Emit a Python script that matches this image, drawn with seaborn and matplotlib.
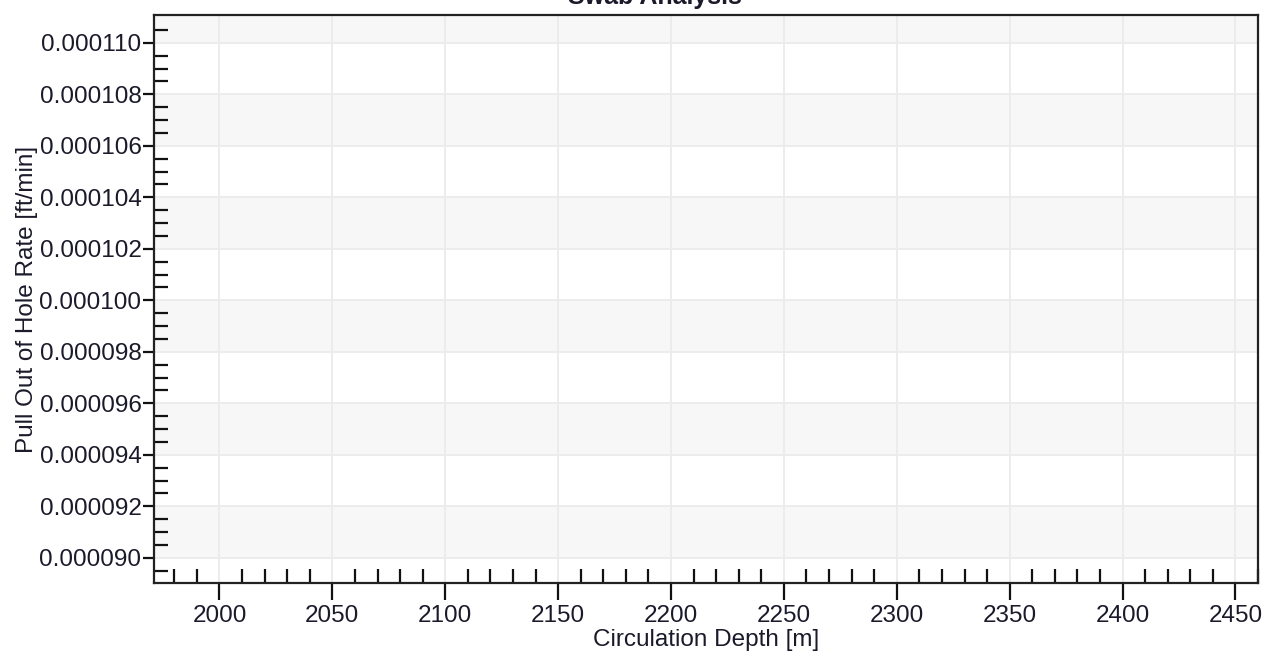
import numpy as np
import pandas as pd
import matplotlib
matplotlib.use("Agg")
import matplotlib.pyplot as plt
import seaborn as sns
from matplotlib.ticker import MultipleLocator, FormatStrFormatter

# no results were computed, so the series is empty
circulation_depth = []
pull_out_rate = []

x_ticks = [2000, 2050, 2100, 2150, 2200, 2250, 2300, 2350, 2400, 2450]
y_ticks = [0.000090, 0.000092, 0.000094, 0.000096, 0.000098, 0.000100,
           0.000102, 0.000104, 0.000106, 0.000108, 0.000110]
x_limits = (1971, 2460)
y_limits = (0.00008902, 0.00011108)

sns.set_theme(style="white")
plt.rcParams['font.family'] = ['Liberation Sans', 'DejaVu Sans']

fig = plt.figure(figsize=(12.71, 6.64), dpi=100)
ax = fig.add_axes([154 / 1271, 1 - 583 / 664, (1258 - 154) / 1271, (583 - 15) / 664])

datos = pd.DataFrame({'depth': pd.Series(circulation_depth, dtype=float),
                      'rate': pd.Series(pull_out_rate, dtype=float)})
sns.lineplot(data=datos, x='depth', y='rate', ax=ax, color='#1f4e9a')

ax.set_xlim(*x_limits)
ax.set_ylim(*y_limits)

# alternating background bands between the grid lines
bordes = [y_limits[0]] + y_ticks + [y_limits[1]]
for i in range(len(bordes) - 1):
    if i % 2 == 1:
        ax.axhspan(bordes[i], bordes[i + 1], color='#f7f7f7', zorder=0, lw=0)

ax.set_xticks(x_ticks)
ax.set_yticks(y_ticks)
ax.xaxis.set_minor_locator(MultipleLocator(10))
# minor y ticks every 0.5e-6, none on the frame corners
ax.set_yticks(np.arange(0.0000895, 0.0001106, 0.0000005), minor=True)
ax.yaxis.set_major_formatter(FormatStrFormatter('%.6f'))
ax.grid(True, which='major', color='#ebebeb', lw=1.3, zorder=0.5)
ax.set_axisbelow(True)

for s in ax.spines.values():
    s.set_color('#222222')
    s.set_linewidth(1.6)

ax.tick_params(which='major', direction='out', color='#111111', width=1.6,
               labelsize=17.5, labelcolor='#1a1a2a', bottom=True, left=True)
ax.tick_params(axis='x', which='major', length=12, pad=4)
ax.tick_params(axis='y', which='major', length=8, pad=1)
ax.tick_params(which='minor', direction='in', length=10, width=1.6,
               color='#111111', bottom=True, left=True, top=False, right=False)

ax.set_xlabel('Circulation Depth [m]', fontsize=17.5, color='#1a1a2a', labelpad=1)
ax.set_ylabel('Pull Out of Hole Rate [ft/min]', fontsize=17.5, color='#1a1a2a', labelpad=1)

# title sits mostly above the picture, as in the original export
fig.text(0.515, 1 - 4 / 664, 'Swab Analysis', ha='center', va='baseline',
         fontsize=18, fontweight='bold', color='#1a1a2a')

fig.savefig('out.png', dpi=100)
